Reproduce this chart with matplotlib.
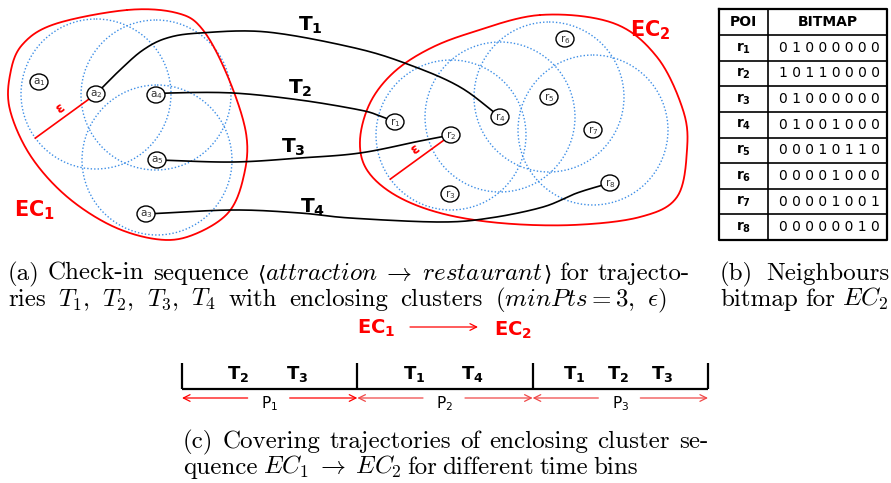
import numpy as np
import matplotlib
matplotlib.use('Agg')
import matplotlib.pyplot as plt
from matplotlib.patches import Circle, Ellipse

# --- data (pixel coordinates of the sketch) ---
a_names = ['a1', 'a2', 'a3', 'a4', 'a5']
a_x = [39, 96, 146, 156, 157]
a_y = [82, 94, 214, 95, 160]

r_names = ['r1', 'r2', 'r3', 'r4', 'r5', 'r6', 'r7', 'r8']
r_x = [395, 451, 450, 500, 549, 565, 593, 610]
r_y = [122, 135, 194, 117, 97, 39, 130, 183]

core_a = ['a2', 'a4', 'a5']
core_r = ['r2', 'r4', 'r5', 'r7']
eps = 75

ec1_outline = [(127, 10), (177, 13), (203, 30), (228, 77), (246, 133), (244, 175),
               (228, 213), (190, 236), (155, 239), (110, 225), (65, 195), (30, 155),
               (10, 110), (10, 75), (22, 45), (55, 24)]
ec2_outline = [(540, 15), (613, 23), (657, 57), (683, 110), (687, 150), (677, 197),
               (640, 217), (573, 225), (500, 223), (440, 213), (395, 195), (367, 170),
               (360, 140), (370, 103), (393, 73), (427, 50), (470, 33)]

traj_names = ['T1', 'T2', 'T3', 'T4']
traj_paths = [
    [(96, 94), (120, 70), (143, 50), (167, 38), (200, 33), (267, 32), (355, 48),
     (410, 65), (460, 87), (500, 117)],
    [(156, 95), (170, 93), (233, 93), (300, 100), (360, 110), (380, 116), (395, 122)],
    [(157, 160), (233, 162), (300, 158), (360, 153), (420, 141), (451, 135)],
    [(146, 214), (233, 210), (300, 213), (350, 218), (440, 222), (490, 218),
     (543, 207), (577, 193), (610, 183)],
]
traj_label_xy = [(310, 25), (300, 88), (293, 147), (313, 207)]

bitmap = [
    [0, 1, 0, 0, 0, 0, 0, 0],
    [1, 0, 1, 1, 0, 0, 0, 0],
    [0, 1, 0, 0, 0, 0, 0, 0],
    [0, 1, 0, 0, 1, 0, 0, 0],
    [0, 0, 0, 1, 0, 1, 1, 0],
    [0, 0, 0, 0, 1, 0, 0, 0],
    [0, 0, 0, 0, 1, 0, 0, 1],
    [0, 0, 0, 0, 0, 0, 1, 0],
]

bins = ['P1', 'P2', 'P3']
bin_trajs = [['T2', 'T3'], ['T1', 'T4'], ['T1', 'T2', 'T3']]

# caption lines: words, each word a list of pieces (tuples = angle bracket pieces)
cap_a1 = [['(a)'], ['Check-in'], ['sequence'],
          [('⟨', 'ang'), r'$attraction\;\rightarrow\;restaurant$', ('⟩', 'ang')],
          ['for'], ['trajecto-']]
cap_a2 = [['ries'], [r'$T_1$,'], [r'$T_2$,'], [r'$T_3$,'], [r'$T_4$'], ['with'],
          ['enclosing'], ['clusters'], [r'$(minPts = 3,$'], [r'$\epsilon)$']]
cap_b1 = [['(b)'], ['Neighbours']]
cap_b2 = [['bitmap'], ['for'], [r'$EC_2$']]
cap_c1 = [['(c)'], ['Covering'], ['trajectories'], ['of'], ['enclosing'], ['cluster'], ['se-']]
cap_c2 = [['quence'], [r'$EC_1\;\rightarrow\;EC_2$'], ['for'], ['different'], ['time'], ['bins']]


def smooth(pts, closed=False, n=24):
    p = np.array(pts, float)
    if closed:
        p = np.vstack([p[-1], p, p[0], p[1]])
    else:
        p = np.vstack([2 * p[0] - p[1], p, 2 * p[-1] - p[-2]])
    t = np.linspace(0, 1, n, endpoint=False)[:, None]
    out = []
    for i in range(1, len(p) - 2):
        p0, p1, p2, p3 = p[i - 1], p[i], p[i + 1], p[i + 2]
        out.append(0.5 * (2 * p1 + (-p0 + p2) * t + (2 * p0 - 5 * p1 + 4 * p2 - p3) * t ** 2
                          + (-p0 + 3 * p1 - 3 * p2 + p3) * t ** 3))
    out.append(p[-2][None])
    return np.vstack(out)


def sub(name, bold=False):
    s = '%s_{%s}' % (name[0], name[1:])
    return r'$\mathbf{%s}$' % s if bold else r'$\mathregular{%s}$' % s


fig = plt.figure(figsize=(8.91, 4.83), dpi=100)
ax = fig.add_axes([0, 0, 1, 1])
ax.set_xlim(0, 891)
ax.set_ylim(483, 0)
ax.axis('off')
renderer = fig.canvas.get_renderer()


def put_line(x0, x1, y, words, fs=18):
    placed = []
    total = 0
    for w in words:
        pieces = []
        for pc in w:
            if isinstance(pc, tuple):
                t = ax.text(0, y, pc[0], fontsize=fs * 0.85, fontfamily='DejaVu Serif',
                            va='baseline')
            else:
                t = ax.text(0, y, pc, fontsize=fs, fontfamily='cmr10', math_fontfamily='cm',
                            va='baseline')
            wd = t.get_window_extent(renderer).width
            pieces.append((t, wd))
            total += wd
        placed.append(pieces)
    space = (x1 - x0 - total) / (len(words) - 1)
    x = x0
    for pieces in placed:
        for t, wd in pieces:
            t.set_x(x)
            x += wd
        x += space


red = '#ff0000'
blue = '#3d8ee6'

# enclosing clusters
for outline in [ec1_outline, ec2_outline]:
    c = smooth(outline, closed=True)
    ax.plot(c[:, 0], c[:, 1], color=red, lw=1.3, zorder=2)
ax.text(14, 210, r'$\mathbf{EC_1}$', color=red, fontsize=15, va='center', ha='left')
ax.text(630, 30, r'$\mathbf{EC_2}$', color=red, fontsize=15, va='center', ha='left')

# eps neighbourhoods
pos = dict(zip(a_names + r_names, zip(a_x + r_x, a_y + r_y)))
for name in core_a + core_r:
    ax.add_patch(Circle(pos[name], eps, fill=False, ec=blue, lw=1.0, ls=(0, (1, 1.5)), zorder=1))

# eps radius lines
for name, ang in [('a2', 216), ('r2', 216)]:
    x0, y0 = pos[name]
    x1 = x0 + eps * np.cos(np.radians(ang))
    y1 = y0 - eps * np.sin(np.radians(ang))
    ax.plot([x0, x1], [y0, y1], color=red, lw=1.2, zorder=3)
    ax.text((x0 + x1) / 2 - 6, (y0 + y1) / 2 - 8, 'ε', color=red, fontsize=10,
            fontweight='bold', rotation=36, ha='center', va='center')

# trajectories
for pts, name, (lx, ly) in zip(traj_paths, traj_names, traj_label_xy):
    c = smooth(pts)
    ax.plot(c[:, 0], c[:, 1], color='black', lw=1.2, zorder=3)
    ax.text(lx, ly, sub(name, bold=True), fontsize=14.5, ha='center', va='center')

# POIs
for name in a_names + r_names:
    ax.add_patch(Ellipse(pos[name], 18, 16, fc='white', ec='black', lw=1.0, zorder=4))
    ax.text(pos[name][0], pos[name][1] + 0.5, sub(name), fontsize=7.5, color='#333333',
            ha='center', va='center', zorder=5)

# bitmap table
tx0, tx1, tsep = 719, 887, 768
ty0, thead = 9, 35
rh = (240 - thead) / len(bitmap)
ty1 = thead + rh * len(bitmap)
ax.plot([tx0, tx1, tx1, tx0, tx0], [ty0, ty0, ty1, ty1, ty0], color='black', lw=1.6, zorder=2)
ax.plot([tsep, tsep], [ty0, ty1], color='black', lw=1.2)
ax.plot([tx0, tx1], [thead, thead], color='black', lw=1.2)
for i in range(1, len(bitmap)):
    ax.plot([tx0, tx1], [thead + i * rh] * 2, color='black', lw=1.2)
ax.text((tx0 + tsep) / 2, (ty0 + thead) / 2, 'POI', fontsize=10, fontweight='bold',
        ha='center', va='center')
ax.text((tsep + tx1) / 2, (ty0 + thead) / 2, 'BITMAP', fontsize=10, fontweight='bold',
        ha='center', va='center')
for i, row in enumerate(bitmap):
    yc = thead + (i + 0.5) * rh
    ax.text((tx0 + tsep) / 2, yc, sub(r_names[i], bold=True), fontsize=10,
            ha='center', va='center')
    ax.text((tsep + tx1) / 2 + 2, yc, ' '.join(str(b) for b in row), fontsize=10,
            ha='center', va='center')

# captions (a), (b)
put_line(8, 690, 280, cap_a1)
put_line(8, 666, 306, cap_a2)
put_line(720, 889, 280, cap_b1)
put_line(720, 888, 306, cap_b2)

# (c) covering trajectories per time bin
ax.text(376, 328, r'$\mathbf{EC_1}$', color=red, fontsize=14, ha='center', va='center')
ax.text(513, 330, r'$\mathbf{EC_2}$', color=red, fontsize=14, ha='center', va='center')
ax.annotate('', xy=(478, 327), xytext=(410, 327),
            arrowprops=dict(arrowstyle='->', color=red, lw=0.9, shrinkA=0, shrinkB=0,
                            mutation_scale=12))

bx0, bx1, by, btop = 182, 708, 389, 363
edges = np.linspace(bx0, bx1, len(bins) + 1)
ax.plot([bx0, bx1], [by, by], color='black', lw=1.6, solid_capstyle='butt')
for e in edges:
    ax.plot([e, e], [btop, by], color='black', lw=1.6, solid_capstyle='butt')
for k, (lab, trs) in enumerate(zip(bins, bin_trajs)):
    l, r = edges[k], edges[k + 1]
    n = len(trs)
    for j, t in enumerate(trs):
        ax.text(l + (r - l) * (j + 1) / (n + 1) - 2, 374, sub(t, bold=True), fontsize=13,
                ha='center', va='center')
    mid = (l + r) / 2
    col = red if k == 0 else '#f04848'
    for a, b in [(mid - 22, l), (mid + 20, r)]:
        ax.annotate('', xy=(b, 398), xytext=(a, 398),
                    arrowprops=dict(arrowstyle='->', color=col, lw=0.9, shrinkA=0, shrinkB=0,
                                    mutation_scale=12))
    ax.text(mid, 404, sub(lab), fontsize=11, ha='center', va='center')

put_line(183, 708, 448, cap_c1)
put_line(183, 638, 474, cap_c2)

fig.savefig('out.png', dpi=100)
